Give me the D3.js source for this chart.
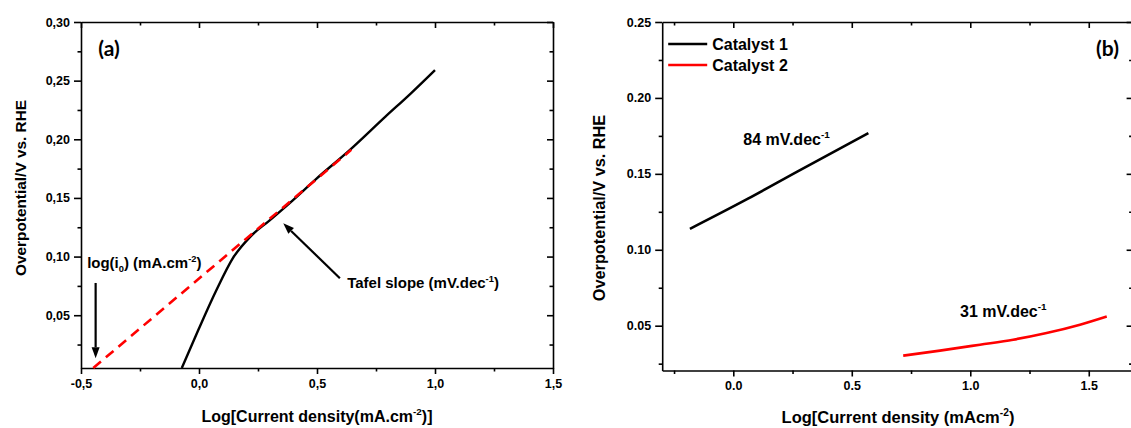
<!DOCTYPE html>
<html>
<head>
<meta charset="utf-8">
<script src="https://cdn.jsdelivr.net/npm/d3@7"></script>
<style>
  html, body { margin: 0; padding: 0; background: #fff; }
  svg { display: block; }
  text { font-family: "Liberation Sans", Arial, sans-serif; font-weight: bold; fill: #000; }
  .domain, .tick line { stroke: #000; stroke-width: 1.6; }
</style>
</head>
<body>
<svg id="chart" width="1131" height="428"></svg>
<script>
// ---- Panel (a): polarisation curve and Tafel extrapolation ----
const polLogJ = [-0.073, -0.003, 0.074, 0.143, 0.22, 0.297, 0.389, 0.497, 0.636, 0.79, 0.898, 1.0];
const polEta  = [0.005, 0.0374, 0.0715, 0.0985, 0.1175, 0.1305, 0.1465, 0.1663, 0.1903, 0.2193, 0.2392, 0.259];
const fitLogJ = [-0.448, 0.645];
const fitEta  = [0.005, 0.191];
const aXTicks = [-0.5, 0.0, 0.5, 1.0, 1.5];
const aYTicks = [0.05, 0.10, 0.15, 0.20, 0.25, 0.30];

// ---- Panel (b): Tafel plots of the two catalysts ----
const seriesNames = ["Catalyst 1", "Catalyst 2"];
const cat1LogJ = [-0.183, 0.06, 0.27, 0.57];
const cat1Eta  = [0.1138, 0.1335, 0.1515, 0.1768];
const cat2LogJ = [0.717, 0.872, 1.041, 1.181, 1.322, 1.463, 1.576];
const cat2Eta  = [0.0303, 0.0336, 0.0375, 0.0408, 0.0452, 0.0507, 0.0561];
const tafelSlopes = ["84", "31"];
const bXTicks = [0.0, 0.5, 1.0, 1.5];
const bYTicks = [0.05, 0.10, 0.15, 0.20, 0.25];

const svg = d3.select("#chart");
const zip = (xs, ys) => xs.map((x, i) => ({x, y: ys[i]}));
const comma = (fmt) => (v) => d3.format(fmt)(v).replace("−", "-").replace(".", ",");
const dot = (fmt) => (v) => d3.format(fmt)(v).replace("−", "-");
const TICK_FS = 12.5;

function frame(g, x, y, xt, yt, xMinor, yMinor, xf, yf) {
  const [x0, x1] = x.range(), [y0, y1] = y.range();
  // minor ticks on all four sides
  g.append("g").attr("transform", `translate(0,${y0})`)
    .call(d3.axisBottom(x).tickValues(xMinor).tickSize(3.5).tickFormat("")).select(".domain").remove();
  g.append("g").attr("transform", `translate(${x0},0)`)
    .call(d3.axisLeft(y).tickValues(yMinor).tickSize(3.5).tickFormat("")).select(".domain").remove();
  g.append("g").attr("transform", `translate(0,${y1})`)
    .call(d3.axisTop(x).tickValues(xMinor).tickSize(-3.5).tickFormat("")).select(".domain").remove();
  g.append("g").attr("transform", `translate(${x1},0)`)
    .call(d3.axisRight(y).tickValues(yMinor).tickSize(-3.5).tickFormat("")).select(".domain").remove();
  // major ticks; labels on bottom and left only
  const bx = g.append("g").attr("transform", `translate(0,${y0})`)
    .call(d3.axisBottom(x).tickValues(xt).tickSize(6).tickSizeOuter(0).tickPadding(5).tickFormat(xf));
  bx.selectAll("text").attr("font-size", TICK_FS);
  const ly = g.append("g").attr("transform", `translate(${x0},0)`)
    .call(d3.axisLeft(y).tickValues(yt).tickSize(7).tickSizeOuter(0).tickPadding(4).tickFormat(yf));
  ly.selectAll("text").attr("font-size", TICK_FS);
  g.append("g").attr("transform", `translate(0,${y1})`)
    .call(d3.axisTop(x).tickValues(xt).tickSize(-6).tickSizeOuter(0).tickFormat(""));
  g.append("g").attr("transform", `translate(${x1},0)`)
    .call(d3.axisRight(y).tickValues(yt).tickSize(-6).tickSizeOuter(0).tickFormat(""));
  g.selectAll("text").style("font-family", '"Liberation Sans", Arial, sans-serif').style("font-weight", "bold");
}

// Text with superscript / subscript pieces; parts are [text, kind], kind "", "sup" or "sub".
function richText(sel, parts, fs) {
  sel.attr("font-size", fs);
  let shift = 0;
  parts.forEach(([t, k]) => {
    const target = k === "sup" ? -0.42 * fs : k === "sub" ? 0.28 * fs : 0;
    const ts = sel.append("tspan").attr("dy", target - shift).text(t);
    if (k) ts.attr("font-size", 0.62 * fs);
    shift = target;
  });
}

function arrow(g, x1, y1, x2, y2) {
  const ang = Math.atan2(y2 - y1, x2 - x1), L = 11, W = 4;
  const bx = x2 - L * Math.cos(ang), by = y2 - L * Math.sin(ang);
  g.append("line").attr("x1", x1).attr("y1", y1).attr("x2", bx).attr("y2", by)
    .attr("stroke", "#000").attr("stroke-width", 2.2);
  g.append("path").attr("fill", "#000")
    .attr("d", `M${x2},${y2}L${bx + W * Math.sin(ang)},${by - W * Math.cos(ang)}L${bx - W * Math.sin(ang)},${by + W * Math.cos(ang)}Z`);
}

// ================= Panel (a) =================
{
  const x = d3.scaleLinear().domain([-0.5, 1.5]).range([81, 553]);
  const y = d3.scaleLinear().domain([0.005, 0.30]).range([368, 22]);
  const g = svg.append("g");
  frame(g, x, y, aXTicks, aYTicks,
    d3.range(-0.25, 1.5, 0.5), d3.range(0.025, 0.3, 0.05), comma(".1f"), comma(".2f"));

  g.append("path").datum(zip(polLogJ, polEta))
    .attr("d", d3.line().x(d => x(d.x)).y(d => y(d.y)).curve(d3.curveMonotoneX)).attr("fill", "none")
    .attr("stroke", "#000").attr("stroke-width", 2.4);
  g.append("path").datum(zip(fitLogJ, fitEta))
    .attr("d", d3.line().x(d => x(d.x)).y(d => y(d.y))).attr("fill", "none")
    .attr("stroke", "#ff0000").attr("stroke-width", 2.6).attr("stroke-dasharray", "10,6.5");

  g.append("text").attr("x", x(-0.381)).attr("y", y(0.271)).attr("text-anchor", "middle")
    .style("font-family", "Lato, 'Open Sans', sans-serif").attr("font-size", 21).text("(a)");

  richText(g.append("text").attr("x", x(-0.474)).attr("y", y(0.0903)),
    [["log(i", ""], ["0", "sub"], [") (mA.cm", ""], ["-2", "sup"], [")", ""]], 15);
  arrow(g, x(-0.438), y(0.0775), x(-0.438), y(0.0133));

  richText(g.append("text").attr("x", x(0.628)).attr("y", y(0.0732)),
    [["Tafel slope (mV.dec", ""], ["-1", "sup"], [")", ""]], 15);
  arrow(g, x(0.597), y(0.0815), x(0.357), y(0.1284));

  g.append("text").attr("transform", "translate(26,188) rotate(-90)").attr("text-anchor", "middle")
    .attr("font-size", 15.4).text("Overpotential/V vs. RHE");
  richText(g.append("text").attr("x", 317).attr("y", 422).attr("text-anchor", "middle"),
    [["Log[Current density(mA.cm", ""], ["-2", "sup"], [")]", ""]], 16);
}

// ================= Panel (b) =================
{
  const x = d3.scaleLinear().domain([-0.3, 1.685]).range([662.2, 1132.6]);
  const y = d3.scaleLinear().domain([0.0205, 0.25]).range([370.5, 22]);
  const g = svg.append("g");
  frame(g, x, y, bXTicks, bYTicks,
    d3.range(-0.25, 1.7, 0.5), d3.range(0.025, 0.25, 0.05), dot(".1f"), dot(".2f"));

  const line = d3.line().x(d => x(d.x)).y(d => y(d.y)).curve(d3.curveMonotoneX);
  const series = [zip(cat1LogJ, cat1Eta), zip(cat2LogJ, cat2Eta)];
  const colors = ["#000000", "#ff0000"];
  g.selectAll("path.series").data(series).join("path").attr("class", "series")
    .attr("d", line).attr("fill", "none")
    .attr("stroke", (d, i) => colors[i]).attr("stroke-width", 2.6);

  // legend
  const [lx0] = x.range(), [, ly1] = y.range();
  seriesNames.forEach((name, i) => {
    const yy = ly1 + 22 + i * 21;
    g.append("line").attr("x1", lx0 + 6).attr("x2", lx0 + 45).attr("y1", yy).attr("y2", yy)
      .attr("stroke", colors[i]).attr("stroke-width", 2.6);
    g.append("text").attr("x", lx0 + 50).attr("y", yy + 5.5).attr("font-size", 16).text(name);
  });

  g.append("text").attr("x", x(1.579)).attr("y", y(0.2276)).attr("text-anchor", "middle")
    .style("font-family", "Lato, 'Open Sans', sans-serif").attr("font-size", 21).text("(b)");

  richText(g.append("text").attr("x", x(0.042)).attr("y", y(0.169)),
    [[tafelSlopes[0] + " mV.dec", ""], ["-1", "sup"]], 16);
  richText(g.append("text").attr("x", x(0.957)).attr("y", y(0.0559)),
    [[tafelSlopes[1] + " mV.dec", ""], ["-1", "sup"]], 16);

  g.append("text").attr("transform", "translate(605,208) rotate(-90)").attr("text-anchor", "middle")
    .attr("font-size", 16.3).text("Overpotential/V vs. RHE");
  richText(g.append("text").attr("x", 898).attr("y", 423).attr("text-anchor", "middle"),
    [["Log[Current density (mAcm", ""], ["-2", "sup"], [")", ""]], 16.5);
}
</script>
</body>
</html>
